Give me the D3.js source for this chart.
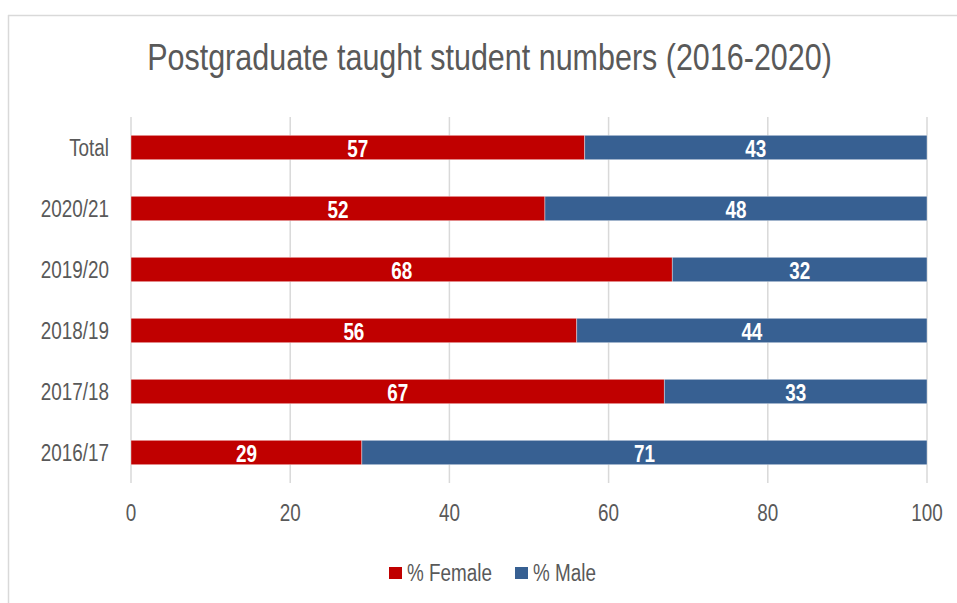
<!DOCTYPE html>
<html>
<head>
<meta charset="utf-8">
<script src="https://cdn.jsdelivr.net/npm/d3@7"></script>
<style>
  body { margin: 0; background: #fff; }
  svg text { font-family: "Liberation Sans Narrow", "Arial Narrow", "Liberation Sans", Arial, sans-serif; }
</style>
</head>
<body>
<svg id="chart" width="957" height="603"></svg>
<script>
// data
const categories = ['Total', '2020/21', '2019/20', '2018/19', '2017/18', '2016/17'];
const female = [57, 52, 68, 56, 67, 29];
const male = [43, 48, 32, 44, 33, 71];
const seriesNames = ['% Female', '% Male'];
const xTicks = [0, 20, 40, 60, 80, 100];

const colors = ['#C00000', '#376092'];
const textColor = '#595959';

const svg = d3.select('#chart');

// no narrow font installed: squeeze text horizontally like Arial Narrow
function narrow(sel, factor = 0.82) {
  sel.each(function () {
    const len = this.getComputedTextLength();
    d3.select(this).attr('textLength', len * factor).attr('lengthAdjust', 'spacingAndGlyphs');
  });
}

// chart frame (only top and left edges are visible in the crop)
svg.append('line').attr('x1', 8).attr('x2', 957).attr('y1', 15.5).attr('y2', 15.5)
  .attr('stroke', '#d9d9d9').attr('stroke-width', 1.5);
svg.append('line').attr('x1', 8.5).attr('x2', 8.5).attr('y1', 15).attr('y2', 603)
  .attr('stroke', '#d9d9d9').attr('stroke-width', 1.5);

const x = d3.scaleLinear().domain([0, 100]).range([131, 927]);
const y = d3.scaleBand().domain(categories).range([117, 483]).paddingInner(0.6).paddingOuter(0.3);

// title, scaled to the reference width
const title = svg.append('text')
  .attr('text-anchor', 'middle')
  .attr('font-size', 37)
  .attr('fill', textColor)
  .text('Postgraduate taught student numbers (2016-2020)');
const titleScale = 685 / title.node().getComputedTextLength();
title.attr('transform', `translate(489.5,70) scale(${titleScale},1)`);

// gridlines
svg.append('g')
  .selectAll('line')
  .data(xTicks)
  .enter()
  .append('line')
  .attr('x1', d => x(d)).attr('x2', d => x(d))
  .attr('y1', 117).attr('y2', 483)
  .attr('stroke', '#d9d9d9')
  .attr('stroke-width', 1.5);

// x tick labels
svg.append('g')
  .selectAll('text')
  .data(xTicks)
  .enter()
  .append('text')
  .attr('x', d => x(d))
  .attr('y', 521)
  .attr('text-anchor', 'middle')
  .attr('font-size', 23)
  .attr('fill', textColor)
  .text(d => d)
  .call(narrow);

// category labels
svg.append('g')
  .selectAll('text')
  .data(categories)
  .enter()
  .append('text')
  .attr('x', 109)
  .attr('y', d => y(d) + y.bandwidth() / 2)
  .attr('dy', '0.38em')
  .attr('text-anchor', 'end')
  .attr('font-size', 23)
  .attr('fill', textColor)
  .text(d => d)
  .call(narrow);

// stacked bars
const rows = categories.map((c, i) => ({ cat: c, values: [female[i], male[i]] }));
const barLayer = svg.append('g');
const labelLayer = svg.append('g');
rows.forEach(r => {
  let start = 0;
  r.values.forEach((v, j) => {
    barLayer.append('rect')
      .attr('x', x(start))
      .attr('y', y(r.cat))
      .attr('width', x(start + v) - x(start))
      .attr('height', y.bandwidth())
      .attr('fill', colors[j])
      .attr('stroke', '#ffffff')
      .attr('stroke-opacity', 0.5)
      .attr('stroke-width', 0.75);
    labelLayer.append('text')
      .attr('x', x(start + v / 2))
      .attr('y', y(r.cat) + y.bandwidth() / 2)
      .attr('dy', '0.4em')
      .attr('text-anchor', 'middle')
      .attr('font-size', 23)
      .attr('font-weight', 'bold')
      .attr('fill', '#ffffff')
      .text(v)
      .call(narrow);
    start += v;
  });
});

// legend
const legend = svg.append('g').attr('transform', 'translate(0,581)');
const legendX = [389, 515];
seriesNames.forEach((name, i) => {
  legend.append('rect')
    .attr('x', legendX[i]).attr('y', -14)
    .attr('width', 13).attr('height', 12)
    .attr('fill', colors[i]);
  legend.append('text')
    .attr('x', legendX[i] + 18).attr('y', 0)
    .attr('font-size', 23)
    .attr('fill', textColor)
    .text(name)
    .call(narrow);
});
</script>
</body>
</html>
